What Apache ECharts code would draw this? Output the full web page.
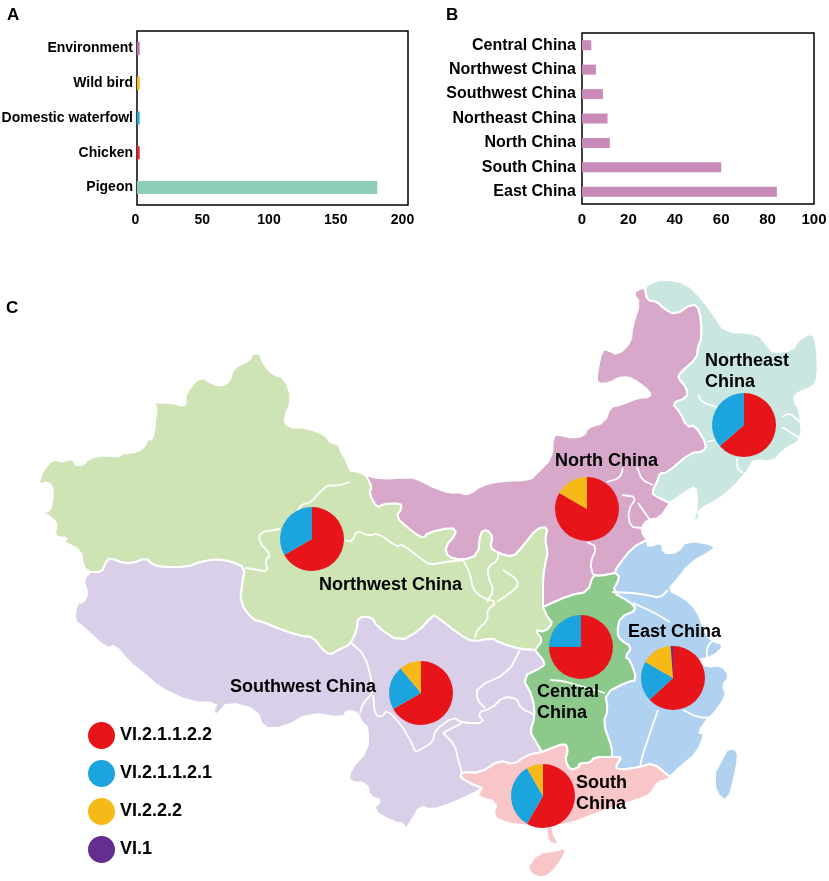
<!DOCTYPE html>
<html><head><meta charset="utf-8">
<style>html,body{margin:0;padding:0;background:#fff}#c{width:829px;height:881px}</style>
<script src="https://cdn.jsdelivr.net/npm/echarts@6/dist/echarts.min.js"></script>
</head><body><div id="c"></div>
<script>
// ---- data
const hostCats = ['Pigeon','Chicken','Domestic waterfowl','Wild bird','Environment'];
const hostVals = [180,2,2,2,2];
const hostColors = ['#8FCDBB','#E8202A','#2AA5E0','#F5B81C','#C06BAE'];
const hostTicks = [0,50,100,150,200];
const regionCats = ['East China','South China','North China','Northeast China','Southwest China','Northwest China','Central China'];
const regionVals = [84,60,12,11,9,6,4];
const lineages = ['VI.2.1.1.2.2','VI.2.1.1.2.1','VI.2.2.2','VI.1'];
const lineageColors = ['#E71419','#1CA4DE','#F5B918','#662D91'];
const pieNorthwest = [4,2,0,0];
const pieNortheast = [7,4,0,0];
const pieNorth = [10,0,2,0];
const pieCentral = [3,1,0,0];
const pieEast = [53,17,13,1];
const pieSouth = [35,20,5,0];
const pieSouthwest = [6,2,1,0];

// ---- map outlines (shared borders kept once)
const nwTop = [[39,482],[43,470],[53,459],[63,462],[69,459],[74,460],[75,465],[83,465],[89,458],[105,455],[118,457],[123,453],[137,452],[145,446],[148,438],[152,440],[155,427],[155,420],[157,408],[153,402],[173,403],[182,406],[186,404],[185,394],[200,376],[213,384],[222,386],[230,381],[233,368],[249,361],[252,354],[260,353],[263,363],[272,374],[285,378],[292,400],[284,418],[287,427],[308,428],[325,435],[331,443],[339,444],[341,453],[345,457],[350,471],[355,471],[362,473],[366,475]];
const nwNorth = [[366,475],[372,487],[369,493],[377,508],[383,504],[400,503],[402,508],[396,517],[408,528],[420,537],[425,537],[427,533],[452,527],[457,533],[445,547],[448,557],[463,560],[478,555],[480,533],[487,529],[493,537],[490,547],[498,553],[513,557],[522,547],[537,528],[548,527],[545,540],[548,553],[546,560],[543,577],[543,607]];
const nwCentral = [[543,607],[548,618],[553,623],[545,632],[535,630],[543,640],[535,650]];
const nwSouth = [[535,650],[520,649],[500,643],[492,638],[473,642],[460,635],[437,617],[433,615],[420,630],[400,642],[377,627],[372,617],[358,617],[357,630],[350,645],[340,649],[330,655],[323,650],[313,637],[300,636],[277,628],[263,622],[253,620],[240,603],[242,583],[245,568],[233,562],[217,559],[200,562],[187,567],[163,567],[153,565],[146,558],[133,563],[123,563],[110,558],[106,562],[102,572],[90,572]];
const nwWest = [[90,572],[83,567],[81,550],[63,542],[68,538],[56,537],[55,532],[57,523],[49,516],[41,512],[50,511],[53,497],[52,485],[45,482],[42,485],[39,482]];
const swOuter = [[90,572],[83,580],[88,593],[83,603],[77,602],[74,620],[83,627],[107,649],[115,645],[130,663],[143,673],[160,688],[190,702],[217,703],[213,712],[217,715],[228,702],[257,710],[263,728],[283,728],[310,713],[343,718],[347,710],[358,713],[362,723],[368,727],[368,750],[350,770],[349,782],[367,783],[370,797],[382,800],[372,810],[395,823],[403,823],[405,830],[412,820],[420,806],[432,810],[453,803],[475,793],[482,788]];
const swSouth = [[482,788],[470,783],[460,777],[462,772],[480,773],[500,760],[513,765],[527,755],[542,752]];
const swCentral = [[542,752],[535,740],[530,732],[535,717],[533,697],[522,677],[543,667],[545,662],[535,650]];
const nOuter = [[366,475],[380,479],[410,477],[420,480],[433,487],[450,493],[460,492],[462,494],[470,494],[482,485],[500,481],[530,480],[537,473],[552,458],[553,435],[560,435],[573,438],[585,435],[587,428],[605,422],[610,407],[620,405],[637,398],[650,397],[650,392],[638,382],[628,377],[618,378],[610,383],[597,384],[597,373],[602,349],[608,350],[618,355],[631,342],[632,327],[640,303],[633,293],[642,288],[645,288]];
const nNortheast = [[645,288],[647,300],[658,302],[663,308],[675,315],[693,303],[700,310],[702,337],[698,347],[697,358],[680,373],[678,378],[687,388],[687,398],[672,403],[680,412],[687,427],[695,425],[707,445],[703,452],[690,453],[667,473],[660,473],[658,480],[653,490],[653,495],[670,503]];
const nCoast = [[670,503],[660,518],[647,520],[642,527],[642,533],[647,540]];
const nEast = [[647,540],[633,547],[617,567],[615,573]];
const nCentral = [[615,573],[600,576],[593,575],[588,592],[570,595],[543,607]];
const neOuter = [[645,288],[650,283],[663,279],[687,283],[703,300],[715,317],[725,332],[757,333],[767,345],[773,353],[793,350],[798,340],[813,332],[817,347],[818,377],[813,387],[797,393],[793,400],[800,410],[802,440],[783,450],[773,462],[753,460],[750,467],[742,478],[723,497],[698,510],[700,518],[693,522],[697,510],[697,490],[692,487],[670,503]];
const eOuter = [[647,540],[648,547],[662,542],[663,553],[677,553],[687,540],[715,545],[713,550],[690,563],[677,580],[668,590],[683,597],[697,610],[703,627],[710,640],[725,645],[713,657],[697,660],[707,667],[722,665],[730,677],[722,685],[727,695],[713,715],[708,718],[698,733],[705,733],[697,753],[680,767],[670,777]];
const eSouth = [[670,777],[653,763],[640,767],[620,770],[615,767],[622,757],[612,757]];
const eCentral = [[612,757],[612,748],[603,723],[608,710],[605,693],[627,682],[637,680],[630,660],[625,657],[632,647],[620,640],[617,632],[620,617],[637,610],[630,602],[612,592],[620,577],[615,573]];
const cSouth = [[612,757],[595,757],[590,763],[580,763],[578,768],[570,770],[565,760],[568,750],[565,743],[547,750],[542,752]];
const sOuter = [[670,777],[667,780],[658,782],[650,795],[637,800],[597,813],[573,823],[547,827],[520,825],[507,823],[493,817],[497,802],[477,797],[482,788]];
const taiwan = [[715,772],[723,757],[728,748],[738,750],[737,767],[728,803],[715,792],[715,772]];
const leizhou = [[546,827],[548,842],[557,845],[558,842],[553,833],[553,827],[546,827]];
const hainan = [[528,867],[537,853],[560,850],[563,847],[566,853],[553,872],[543,878],[532,875],[528,867]];

const innerBorders = [
 [[350,482],[336,486],[328,485],[320,492],[310,503],[302,504],[297,512]],
 [[280,529],[260,532],[259,542],[271,555],[265,560],[268,572],[253,569],[245,568]],
 [[345,540],[352,542],[357,530],[368,536],[378,533],[397,547],[402,544],[420,558],[430,565],[445,562],[463,560]],
 [[463,560],[470,573],[473,590],[483,598],[497,602],[487,610],[488,620],[477,630],[475,638]],
 [[498,553],[498,560],[488,567],[488,577],[494,590],[487,602]],
 [[503,570],[518,580],[517,588],[497,602]],
 [[350,642],[365,655],[372,682],[373,693],[363,703],[360,713]],
 [[373,695],[375,715],[382,717],[387,710],[400,723],[412,743],[415,752],[420,750],[433,742],[435,730],[453,717],[462,723],[485,723],[477,713],[492,708],[503,697],[517,698],[520,708],[535,715]],
 [[443,733],[455,745],[458,760],[462,772]],
 [[443,733],[462,723]],
 [[520,650],[508,673],[477,687],[477,700],[485,708]],
 [[550,680],[563,681],[577,685],[605,693]],
 [[612,592],[633,593],[647,595],[660,598],[668,590]],
 [[633,603],[653,612],[670,622]],
 [[707,657],[707,647],[713,640]],
 [[658,710],[650,733],[642,757],[640,767]],
 [[683,710],[697,717],[710,718]],
 [[607,482],[620,478],[623,468]],
 [[637,467],[642,480],[653,485]],
 [[622,495],[637,497],[628,510],[630,527],[642,528]],
 [[638,503],[650,520]],
 [[587,542],[597,547],[590,563],[593,575]],
 [[698,395],[703,403],[717,407]],
 [[782,417],[790,413],[800,422]],
 [[782,427],[798,437]],
 [[707,442],[715,440]],
 [[737,458],[737,468],[743,473]]
];

const mapLabels = [
 ['Northeast\nChina',705,372],['North China',555,461],['Northwest China',319,585],
 ['Southwest China',230,687],['Central\nChina',537,703],['East China',628,632],['South\nChina',576,794]
];
const panelLetters = [['A',7,15],['B',446,15],['C',6,308]];

// ---- build
const flip = r => r.map(p => [p[0], -p[1]]);
// soften the traced outline; ends stay put so neighbouring regions still meet
const soft = a => {
  const out = [a[0]];
  for (let i = 0; i < a.length - 1; i++) {
    const p = a[i], q = a[i+1];
    out.push([p[0]*.75+q[0]*.25, p[1]*.75+q[1]*.25], [p[0]*.25+q[0]*.75, p[1]*.25+q[1]*.75]);
  }
  out.push(a[a.length-1]);
  return out;
};
const rev = a => a.slice().reverse();
const ring = (...parts) => { const r = [].concat(...parts.map(soft)); r.push(r[0]); return flip(r); };
const feature = (name, poly) => ({type:'Feature',properties:{name},geometry:{type:'Polygon',coordinates:[poly]}});
const multi = (name, polys) => ({type:'Feature',properties:{name},geometry:{type:'MultiPolygon',coordinates:polys.map(p=>[p])}});
const geojson = {type:'FeatureCollection',features:[
 feature('Northwest', ring(nwTop,nwNorth,nwCentral,nwSouth,nwWest)),
 feature('Southwest', ring(swOuter,swSouth,swCentral,nwSouth)),
 feature('North', ring(nOuter,nNortheast,nCoast,nEast,nCentral,rev(nwNorth))),
 feature('Northeast', ring(neOuter,rev(nNortheast))),
 multi('East', [ring(eOuter,eSouth,eCentral,rev(nEast)), ring(taiwan)]),
 feature('Central', ring(rev(eCentral),cSouth,swCentral,rev(nwCentral),rev(nCentral))),
 multi('South', [ring(swSouth,rev(cSouth),rev(eSouth),sOuter), ring(leizhou), ring(hainan)])
]};
echarts.registerMap('regions', geojson);
const regionFill = {Northwest:'#CFE4B5',Southwest:'#D9CFE8',North:'#D8A8CB',Northeast:'#C9E6E1',East:'#B0D2F0',Central:'#8CC98B',South:'#F8C6C8'};

const FONT = '"Liberation Sans", Arial, sans-serif';
const pie = (vals, cx, cy) => ({
  type:'pie', radius:32, center:[cx,cy], startAngle:90, clockwise:true, silent:true,
  label:{show:false}, labelLine:{show:false}, color:lineageColors, z:5,
  data: lineages.map((n,i)=>({name:n,value:vals[i]}))
});
const axisText = (size) => ({fontFamily:FONT,fontWeight:'bold',fontSize:size,color:'#000'});

const option = {
  animation:false, backgroundColor:'#fff',
  grid:[
    {left:137,top:31,width:271,height:174,show:true,borderColor:'#000',borderWidth:1.5,backgroundColor:'transparent',outerBoundsMode:'none'},
    {left:582,top:33,width:232,height:171,show:true,borderColor:'#000',borderWidth:1.5,backgroundColor:'transparent',outerBoundsMode:'none'}
  ],
  xAxis:[
    {type:'value',gridIndex:0,min:0,max:203,interval:50,splitLine:{show:false},axisLine:{show:false},axisTick:{show:false},
     axisLabel:{...axisText(14),margin:8,showMaxLabel:false,padding:[0,3,0,0],formatter:v=>hostTicks.includes(v)?String(v):''}},
    {type:'value',gridIndex:1,min:0,max:100,interval:20,splitLine:{show:false},axisLine:{show:false},axisTick:{show:false},
     axisLabel:{...axisText(15),margin:8}}
  ],
  yAxis:[
    {type:'category',gridIndex:0,data:hostCats,axisLine:{show:false},axisTick:{show:false},axisLabel:{...axisText(14),margin:4,padding:[3,0,0,0]}},
    {type:'category',gridIndex:1,data:regionCats,axisLine:{show:false},axisTick:{show:false},axisLabel:{...axisText(16),margin:6}}
  ],
  geo:{
    map:'regions', boundingCoords:[[0,0],[829,-881]], left:0, top:0, width:829, height:881, aspectScale:1,
    roam:false, silent:true, z:1, label:{show:false}, emphasis:{disabled:true},
    itemStyle:{borderColor:'#fff',borderWidth:2},
    regions:Object.keys(regionFill).map(n=>({name:n,itemStyle:{areaColor:regionFill[n]}}))
  },
  legend:{
    orient:'vertical', left:88, top:722, itemWidth:27, itemHeight:27, itemGap:11, icon:'circle',
    data:lineages, selectedMode:false, padding:0,
    textStyle:{fontFamily:FONT,fontWeight:'bold',fontSize:18,color:'#000'}
  },
  series:[
    {type:'bar',xAxisIndex:0,yAxisIndex:0,barWidth:13,silent:true,
     data:hostVals.map((v,i)=>({value:v,itemStyle:{color:hostColors[i]}}))},
    {type:'bar',xAxisIndex:1,yAxisIndex:1,barWidth:10,silent:true,itemStyle:{color:'#C88AB9'},data:regionVals},
    {type:'lines',coordinateSystem:'geo',polyline:true,silent:true,z:2,
     lineStyle:{color:'#fff',width:1.8,opacity:1,curveness:0},
     data:innerBorders.map(b=>({coords:flip(soft(b))}))},
    pie(pieNorthwest,312,539), pie(pieNortheast,744,425), pie(pieNorth,587,509),
    pie(pieCentral,581,647), pie(pieEast,673,678), pie(pieSouth,543,796), pie(pieSouthwest,421,693)
  ],
  graphic:{elements:[
    ...mapLabels.map(l=>({type:'text',x:l[1],y:l[2],z:20,silent:true,
      style:{text:l[0],fontFamily:FONT,fontWeight:'bold',fontSize:18,lineHeight:21,fill:'#000',verticalAlign:'middle'}})),
    ...panelLetters.map(l=>({type:'text',x:l[1],y:l[2],z:20,silent:true,
      style:{text:l[0],fontFamily:FONT,fontWeight:'bold',fontSize:17,fill:'#000',verticalAlign:'middle'}}))
  ]}
};
const chart = echarts.init(document.getElementById('c'),null,{renderer:'canvas'});
chart.setOption(option);
</script></body></html>
